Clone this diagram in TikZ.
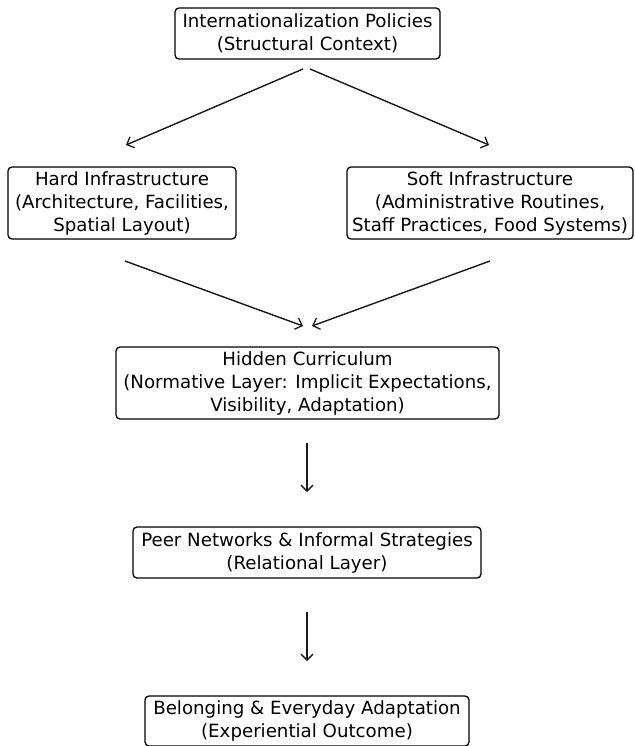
\documentclass[tikz,border=0pt]{standalone}
\usepackage{fontspec}
\setmainfont{DejaVu Sans}
\usetikzlibrary{arrows.meta}
\begin{document}
\begin{tikzpicture}[x=1pt,y=-1pt,
  box/.style={draw=black, line width=1.3pt, rounded corners=4pt, inner sep=0pt,
    align=center, font=\fontsize{18.2}{23}\selectfont, anchor=center},
  arr/.style={-{Straight Barb[length=6pt,width=12pt,line width=1.3pt]}, line width=1.4pt, draw=black!90}]
\useasboundingbox (0,0) rectangle (634,746);
\node[box, minimum width=265pt, minimum height=51pt] (top) at (307.5,33.5)
  {Internationalization Policies\\(Structural Context)};
\node[box, minimum width=228pt, minimum height=72pt] (hard) at (122,203)
  {Hard Infrastructure\\(Architecture, Facilities,\\Spatial Layout)};
\node[box, minimum width=286pt, minimum height=72pt] (soft) at (490,203)
  {Soft Infrastructure\\(Administrative Routines,\\Staff Practices, Food Systems)};
\node[box, minimum width=383pt, minimum height=72pt] (hidden) at (307.5,383)
  {Hidden Curriculum\\(Normative Layer: Implicit Expectations,\\Visibility, Adaptation)};
\node[box, minimum width=348pt, minimum height=51pt] (peer) at (307,552.5)
  {Peer Networks \& Informal Strategies\\(Relational Layer)};
\node[box, minimum width=324pt, minimum height=50pt] (belong) at (307,721)
  {Belonging \& Everyday Adaptation\\(Experiential Outcome)};
\coordinate (a1s) at (303,69);  \coordinate (a1e) at (126,145);
\coordinate (a2s) at (310,69);  \coordinate (a2e) at (489,145);
\coordinate (a3s) at (125,261); \coordinate (a3e) at (303,326);
\coordinate (a4s) at (490,261); \coordinate (a4e) at (312,326);
\coordinate (a5s) at (307,443); \coordinate (a5e) at (307,492);
\coordinate (a6s) at (307,612); \coordinate (a6e) at (307,661);
\draw[arr] (a1s) -- (a1e);
\draw[arr] (a2s) -- (a2e);
\draw[arr] (a3s) -- (a3e);
\draw[arr] (a4s) -- (a4e);
\draw[arr] (a5s) -- (a5e);
\draw[arr] (a6s) -- (a6e);
\end{tikzpicture}
\end{document}
